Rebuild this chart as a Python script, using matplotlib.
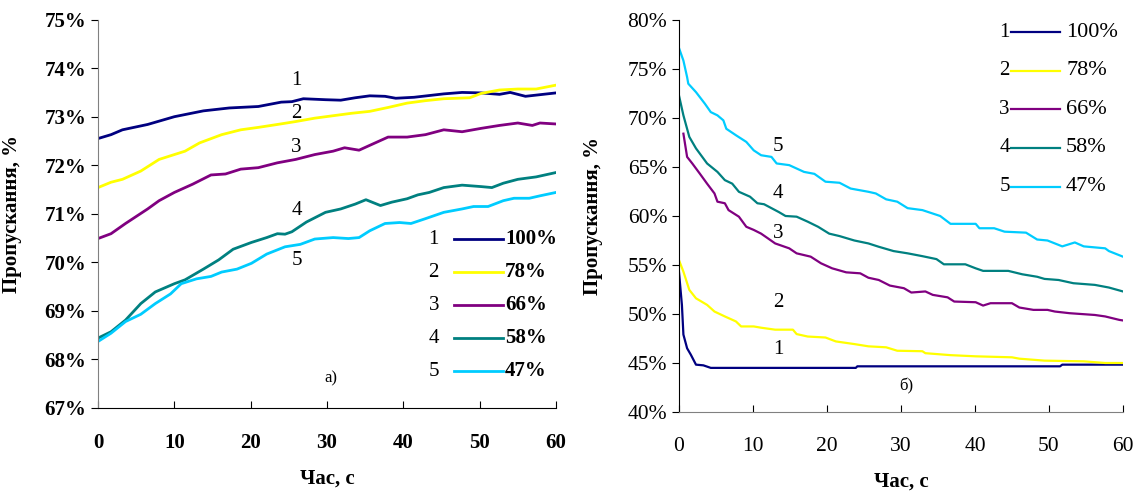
import matplotlib
matplotlib.use("Agg")
import matplotlib.pyplot as plt
from matplotlib.ticker import PercentFormatter, MultipleLocator

plt.rcParams['font.family'] = ['Liberation Serif', 'DejaVu Serif']

# ---- panel а): пропускання, %, зростає з часом ----
a_t1 = [0, 1.7, 3.2, 6.5, 10, 13.8, 17.2, 21, 24, 25.4, 26.9, 29.8, 31.8, 33.7, 35.6,
        37.6, 39, 41.4, 45.3, 47.7, 50.2, 52.6, 54, 56, 60]
a_v1 = [72.55, 72.63, 72.73, 72.84, 73.0, 73.12, 73.18, 73.21, 73.3, 73.31, 73.37, 73.35,
        73.34, 73.39, 73.43, 73.42, 73.38, 73.4, 73.47, 73.5, 73.49, 73.46, 73.5, 73.42, 73.49]

a_t2 = [0, 1.7, 3.2, 5.6, 8, 10, 11.4, 13.3, 16.2, 18.7, 21, 23.5, 25.9, 28.4, 30.8, 33.2,
        35.6, 38, 40.5, 42.9, 45.3, 48.7, 50.2, 52.6, 55, 57.4, 60]
a_v2 = [71.54, 71.65, 71.71, 71.88, 72.12, 72.22, 72.29, 72.46, 72.63, 72.73, 72.78, 72.84,
        72.9, 72.97, 73.02, 73.07, 73.11, 73.19, 73.28, 73.33, 73.37, 73.39, 73.48, 73.55,
        73.57, 73.57, 73.65]

a_t3 = [0, 1.7, 3.6, 6.5, 8, 10, 12.4, 14.8, 16.7, 18.7, 21, 23.5, 25.9, 28.4, 30.8, 32.3,
        34.2, 35.6, 38, 40.5, 42.9, 45.3, 47.7, 50.2, 52.6, 55, 56.9, 57.9, 60]
a_v3 = [70.49, 70.59, 70.8, 71.1, 71.27, 71.44, 71.61, 71.8, 71.82, 71.92, 71.95, 72.05,
        72.12, 72.22, 72.29, 72.36, 72.31, 72.41, 72.58, 72.58, 72.63, 72.73, 72.69, 72.76,
        72.82, 72.87, 72.82, 72.87, 72.85]

a_t4 = [0, 1.7, 3.6, 5.6, 7.5, 10, 11.4, 13.8, 15.8, 17.7, 20.1, 22.1, 23.5, 24.5, 25.4,
        27.3, 29.8, 31.8, 33.7, 35.1, 37, 38.5, 40.5, 41.9, 43.4, 45.3, 47.7, 50.2, 51.6,
        53.1, 55, 57.4, 60]
a_v4 = [68.44, 68.57, 68.81, 69.15, 69.39, 69.56, 69.64, 69.86, 70.05, 70.27, 70.41, 70.51,
        70.59, 70.58, 70.63, 70.83, 71.03, 71.1, 71.2, 71.29, 71.17, 71.24, 71.31, 71.39,
        71.44, 71.54, 71.59, 71.56, 71.54, 71.63, 71.71, 71.76, 71.85]

a_t5 = [0, 1.7, 3.6, 5.6, 7.5, 9.5, 10.9, 12.9, 14.8, 16.2, 18.2, 20.1, 22.1, 24.5, 26.5,
        28.4, 30.8, 32.8, 34.2, 35.6, 37.6, 39.5, 41, 42.9, 45.3, 47.7, 49.2, 51.1, 53.1,
        54.5, 56.5, 57.9, 60]
a_v5 = [68.37, 68.54, 68.78, 68.93, 69.15, 69.35, 69.56, 69.66, 69.71, 69.8, 69.86, 69.98,
        70.17, 70.32, 70.37, 70.48, 70.51, 70.49, 70.51, 70.65, 70.8, 70.82, 70.8, 70.9,
        71.03, 71.1, 71.15, 71.15, 71.27, 71.32, 71.32, 71.37, 71.44]

# ---- panel б): пропускання, %, спадає з часом ----
b_t1 = [0, 0.4, 0.6, 1.1, 1.6, 2.3, 3.3, 4.3, 23.9, 24.1, 51.5, 51.8, 60]
b_v1 = [54.3, 50.9, 47.9, 46.5, 45.85, 44.83, 44.76, 44.5, 44.5, 44.66, 44.66, 44.83, 44.83]

b_t2 = [0, 0.6, 1.4, 2.3, 3.8, 4.8, 6.2, 7.7, 8.4, 10.1, 11.1, 13, 15.4, 15.9, 17.4, 19.8,
        21.2, 23.7, 25.6, 28, 29.5, 32.9, 33.3, 36.7, 40.1, 45, 46, 49.4, 54.7, 57.6, 60]
b_v2 = [55.5, 54.32, 52.46, 51.6, 50.93, 50.25, 49.75, 49.24, 48.73, 48.73, 48.6, 48.4,
        48.4, 47.95, 47.7, 47.6, 47.2, 46.93, 46.7, 46.6, 46.25, 46.2, 46.0, 45.8, 45.68,
        45.58, 45.44, 45.24, 45.17, 45.0, 45.0]

b_t3 = [0.6, 1.1, 1.8, 2.8, 3.8, 4.8, 5.2, 6.2, 6.7, 8.1, 9.1, 10.1, 11.1, 12, 13, 14.9,
        15.9, 17.8, 19.2, 20.7, 22.6, 24.5, 25.6, 27, 28.5, 30.4, 31.4, 33.3, 34.3, 36.3,
        37.2, 40.1, 41.1, 42.1, 45, 46, 47.9, 49.8, 50.8, 52.8, 56.2, 57.6, 59.5, 60]
b_v3 = [68.4, 66.03, 65.36, 64.34, 63.3, 62.3, 61.46, 61.3, 60.6, 59.93, 58.9, 58.58, 58.2,
        57.73, 57.2, 56.7, 56.19, 55.85, 55.17, 54.66, 54.25, 54.15, 53.7, 53.47, 52.9,
        52.63, 52.19, 52.3, 51.95, 51.7, 51.27, 51.2, 50.86, 51.1, 51.1, 50.66, 50.42,
        50.42, 50.25, 50.08, 49.9, 49.75, 49.4, 49.34]

b_t4 = [0, 0.6, 1.4, 2.3, 3.8, 5.2, 6.2, 7.2, 8.1, 9.6, 10.6, 11.5, 13.5, 14.4, 15.9, 17.4,
        18.8, 20.3, 21.7, 23.7, 25.6, 27, 29, 30.9, 32.9, 34.8, 35.8, 38.7, 40.1, 41.1,
        44.5, 46.4, 48.4, 49.4, 51.3, 53.3, 56.2, 58.1, 60]
b_v4 = [72.3, 70.27, 68.07, 66.9, 65.36, 64.5, 63.66, 63.3, 62.47, 61.97, 61.3, 61.2, 60.4,
        60.0, 59.93, 59.42, 58.9, 58.2, 57.95, 57.5, 57.2, 56.86, 56.42, 56.19, 55.9, 55.6,
        55.07, 55.07, 54.66, 54.4, 54.4, 54.05, 53.8, 53.58, 53.47, 53.14, 52.97, 52.7, 52.3]

b_t5 = [0, 0.6, 1.1, 1.26, 2.3, 3.5, 4.3, 5.2, 6, 6.4, 7.7, 9.1, 10.1, 11.1, 12.5, 13.2,
        14.9, 16.9, 18.3, 19.8, 21.7, 23.2, 25.6, 26.6, 28, 29.5, 30.9, 32.9, 35.3, 36.7,
        40.1, 40.6, 42.6, 44, 46.9, 48.4, 49.8, 51.8, 53.5, 54.7, 57.6, 58.1, 60]
b_v5 = [77.15, 75.86, 74.17, 73.5, 72.64, 71.46, 70.6, 70.27, 69.76, 68.9, 68.24, 67.56,
        66.7, 66.2, 66.03, 65.36, 65.19, 64.5, 64.3, 63.5, 63.39, 62.8, 62.47, 62.3, 61.7,
        61.46, 60.8, 60.6, 60.0, 59.2, 59.2, 58.75, 58.75, 58.4, 58.3, 57.6, 57.5, 56.9,
        57.3, 56.9, 56.7, 56.42, 55.85]

colors = ['#000080', '#FFFF00', '#800080', '#008080', '#00CCFF']
numbers = ['1', '2', '3', '4', '5']
legend_text = ['100%', '78%', '66%', '58%', '47%']

a_series = [(a_t1, a_v1), (a_t2, a_v2), (a_t3, a_v3), (a_t4, a_v4), (a_t5, a_v5)]
b_series = [(b_t1, b_v1), (b_t2, b_v2), (b_t3, b_v3), (b_t4, b_v4), (b_t5, b_v5)]

fig = plt.figure(figsize=(11.44, 4.95), dpi=100)
ax1 = fig.add_axes([0.0857, 0.1758, 0.4003, 0.7846])
ax2 = fig.add_axes([0.5935, 0.1677, 0.3881, 0.7919])

# панель а)
for (t, v), c in zip(a_series, colors):
    ax1.plot(t, v, color=c, lw=2.0)
ax1.set_xlim(0, 60)
ax1.set_ylim(67, 75)
ax1.xaxis.set_major_locator(MultipleLocator(10))
ax1.yaxis.set_major_locator(MultipleLocator(1))
ax1.yaxis.set_major_formatter(PercentFormatter(decimals=0))
for lbl, y in zip(numbers, [73.75, 73.07, 72.36, 71.07, 70.03]):
    ax1.text(26, y, lbl, fontsize=15, ha='center', va='center')
ax1.text(30.5, 67.6, 'а)', fontsize=12, ha='center', va='center')
for i, (c, n, s) in enumerate(zip(colors, numbers, legend_text)):
    yy = 0.435 - i * 0.085
    ax1.text(0.733, yy, n, transform=ax1.transAxes, fontsize=15, ha='center', va='center')
    ax1.plot([0.778, 0.885], [yy, yy], color=c, lw=2.0, transform=ax1.transAxes)
    ax1.text(0.889, yy, s, transform=ax1.transAxes, fontsize=15, fontweight='bold',
             ha='left', va='center')
ax1.spines['left'].set_color('#808080')
for lab in ax1.get_xticklabels() + ax1.get_yticklabels():
    lab.set_fontweight('bold')
ax1.tick_params(axis='x', direction='in', length=5, labelsize=15, pad=18)
ax1.tick_params(axis='y', direction='out', length=5, labelsize=15)

# панель б)
for (t, v), c in zip(b_series, colors):
    ax2.plot(t, v, color=c, lw=1.6)
ax2.set_xlim(0, 60)
ax2.set_ylim(40, 80)
ax2.xaxis.set_major_locator(MultipleLocator(10))
ax2.yaxis.set_major_locator(MultipleLocator(5))
ax2.yaxis.set_major_formatter(PercentFormatter(decimals=0))
for lbl, y in zip(numbers, [46.36, 51.17, 58.2, 62.3, 67.05]):
    ax2.text(13.4, y, lbl, fontsize=15, ha='center', va='center')
ax2.text(30.7, 42.6, 'б)', fontsize=12, ha='center', va='center')
for i, (c, n, s) in enumerate(zip(colors, numbers, legend_text)):
    yy = 0.969 - i * 0.0985
    ax2.text(0.745, yy, n, transform=ax2.transAxes, fontsize=15, ha='right', va='center')
    ax2.plot([0.748, 0.858], [yy, yy], color=c, lw=1.6, transform=ax2.transAxes)
    ax2.text(0.872, yy, s, transform=ax2.transAxes, fontsize=16, ha='left', va='center')
ax2.spines['bottom'].set_color('#808080')
ax2.tick_params(axis='x', direction='in', length=5, labelsize=15.5, pad=18)
ax2.tick_params(axis='y', direction='out', length=5, labelsize=15.5)

for ax in (ax1, ax2):
    ax.spines['top'].set_visible(False)
    ax.spines['right'].set_visible(False)
    ax.set_xlabel('Час, с', fontsize=15, fontweight='bold')
    ax.set_ylabel('Пропускання, %', fontsize=15, fontweight='bold')
ax1.xaxis.set_label_coords(0.5, -0.155)
ax1.yaxis.set_label_coords(-0.166, 0.5)
ax2.xaxis.set_label_coords(0.5, -0.153)
ax2.yaxis.set_label_coords(-0.171, 0.5)

fig.savefig('out.png', dpi=100)
